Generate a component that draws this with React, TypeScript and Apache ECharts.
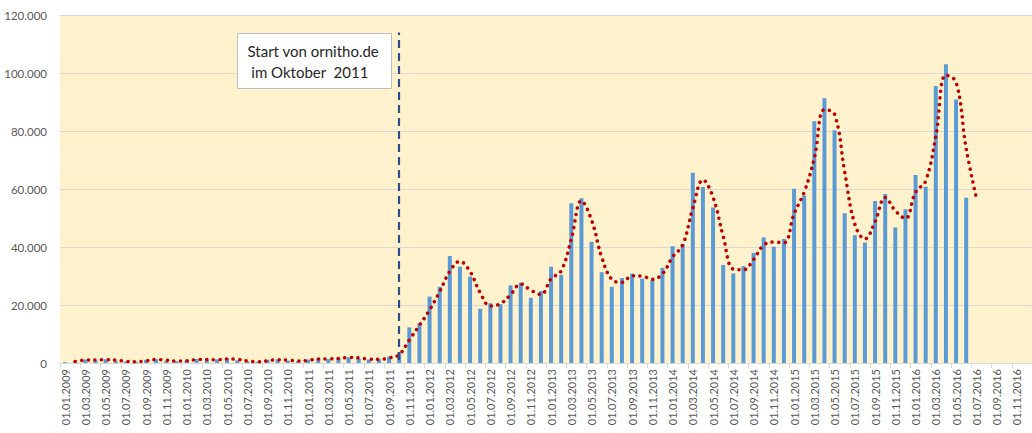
import React, { useEffect, useRef } from "react";
import * as echarts from "echarts";

const months: string[] = [
  "01.01.2009","01.02.2009","01.03.2009","01.04.2009","01.05.2009","01.06.2009","01.07.2009","01.08.2009","01.09.2009","01.10.2009","01.11.2009","01.12.2009",
  "01.01.2010","01.02.2010","01.03.2010","01.04.2010","01.05.2010","01.06.2010","01.07.2010","01.08.2010","01.09.2010","01.10.2010","01.11.2010","01.12.2010",
  "01.01.2011","01.02.2011","01.03.2011","01.04.2011","01.05.2011","01.06.2011","01.07.2011","01.08.2011","01.09.2011","01.10.2011","01.11.2011","01.12.2011",
  "01.01.2012","01.02.2012","01.03.2012","01.04.2012","01.05.2012","01.06.2012","01.07.2012","01.08.2012","01.09.2012","01.10.2012","01.11.2012","01.12.2012",
  "01.01.2013","01.02.2013","01.03.2013","01.04.2013","01.05.2013","01.06.2013","01.07.2013","01.08.2013","01.09.2013","01.10.2013","01.11.2013","01.12.2013",
  "01.01.2014","01.02.2014","01.03.2014","01.04.2014","01.05.2014","01.06.2014","01.07.2014","01.08.2014","01.09.2014","01.10.2014","01.11.2014","01.12.2014",
  "01.01.2015","01.02.2015","01.03.2015","01.04.2015","01.05.2015","01.06.2015","01.07.2015","01.08.2015","01.09.2015","01.10.2015","01.11.2015","01.12.2015",
  "01.01.2016","01.02.2016","01.03.2016","01.04.2016","01.05.2016","01.06.2016","01.07.2016","01.08.2016","01.09.2016","01.10.2016","01.11.2016","01.12.2016",
];

// monthly observations (bars)
const observations: (number | null)[] = [
  300, 800, 1200, 900, 1300, 700, 500, 400, 1100, 1300, 700, 600,
  900, 1400, 1000, 1200, 1600, 900, 500, 400, 1100, 1200, 800, 600,
  1200, 1500, 1300, 1800, 2000, 1500, 1200, 1300, 2200, 3600, 12300, 13700,
  22900, 26300, 36900, 33200, 29800, 18700, 20600, 20300, 26800, 27700, 22500, 24800,
  33200, 30400, 55100, 56800, 41800, 31300, 26300, 29300, 30800, 29100, 28600, 32800,
  40300, 41100, 65600, 60700, 53600, 33800, 30900, 33400, 38000, 43300, 40100, 42800,
  60100, 57800, 83400, 91300, 80300, 51600, 44100, 41500, 55900, 58300, 46700, 53000,
  64800, 60800, 95500, 103000, 90900, 57000, null, null, null, null, null, null,
];

// dotted red trend line
const trend: (number | null)[] = [
  null, 550, 1000, 1050, 1100, 1000, 600, 450, 750, 1200, 1000, 650,
  750, 1150, 1200, 1100, 1400, 1250, 700, 450, 750, 1150, 1000, 700,
  900, 1350, 1400, 1550, 1900, 1750, 1350, 1250, 1750, 2900, 7950, 13000,
  18300, 24600, 31600, 35050, 31500, 24250, 19650, 20450, 23550, 27250, 25100, 23650,
  29000, 31800, 42750, 55950, 49300, 36550, 28800, 27800, 30050, 29950, 28850, 30700,
  36550, 40700, 53350, 63150, 57150, 43700, 32350, 32150, 35700, 40650, 41700, 41450,
  51450, 58950, 70600, 87350, 85800, 65950, 47850, 42800, 48700, 57100, 52500, 49850,
  58900, 62800, 78150, 99250, 96950, 73950, 57000, null, null, null, null, null,
];

const yTicks: number[] = [0, 20000, 40000, 60000, 80000, 100000, 120000];
const startIndex = 33; // Oktober 2011
const startLineRange: number[] = [1000, 114000];
const noteLines: string[] = ["Start von ornitho.de", " im Oktober  2011"];

const FONT = "Lato, 'Open Sans', sans-serif";

function fmt(v: number): string {
  if (v === 0) return "0";
  const k = Math.round(v / 1000);
  return k + ".000";
}

export default function App() {
  const ref = useRef<HTMLDivElement>(null);
  useEffect(() => {
    if (!ref.current) return;
    const chart = echarts.init(ref.current, undefined, { renderer: "svg" });
    chart.setOption({
      animation: false,
      backgroundColor: "#ffffff",
      grid: {
        left: 60,
        right: 0,
        top: 15,
        bottom: 70,
        show: true,
        backgroundColor: "#FFF2CC",
        borderWidth: 0,
      },
      xAxis: {
        type: "category",
        data: months,
        boundaryGap: true,
        axisLine: { lineStyle: { color: "#D9D9D9", width: 1 } },
        axisTick: { show: true, interval: 1, length: 5, lineStyle: { color: "#D9D9D9" } },
        axisLabel: {
          interval: 1,
          rotate: 90,
          color: "#595959",
          fontSize: 11,
          fontFamily: FONT,
          margin: 6,
        },
        splitLine: { show: false },
      },
      yAxis: {
        type: "value",
        min: yTicks[0],
        max: yTicks[yTicks.length - 1],
        interval: 20000,
        axisLine: { show: false },
        axisTick: { show: false },
        axisLabel: {
          color: "#595959",
          fontSize: 11.5,
          fontFamily: FONT,
          margin: 13,
          formatter: (v: number) => fmt(v),
        },
        splitLine: { lineStyle: { color: "#D9D9D9", width: 1 } },
      },
      series: [
        {
          type: "bar",
          data: observations,
          barWidth: 4,
          itemStyle: { color: "#5B9BD5" },
          z: 2,
          markLine: {
            silent: true,
            symbol: ["none", "none"],
            label: { show: false },
            lineStyle: { color: "#2E4D8A", width: 2.2, type: [8, 5] },
            data: [
              [
                { coord: [startIndex, startLineRange[0]] },
                { coord: [startIndex, startLineRange[1]] },
              ],
            ],
          },
        },
        {
          type: "line",
          data: trend,
          smooth: 0.4,
          showSymbol: false,
          symbol: "none",
          connectNulls: false,
          lineStyle: { color: "#C00000", width: 3.5, type: [0.1, 6.5], cap: "round" },
          z: 3,
        },
      ],
      graphic: [
        {
          type: "group",
          left: 237,
          top: 33,
          z: 100,
          children: [
            {
              type: "rect",
              z: 100,
              shape: { x: 0, y: 0, width: 154, height: 55 },
              style: { fill: "#ffffff", stroke: "#BFBFBF", lineWidth: 1 },
            },
            {
              type: "text",
              z: 101,
              x: 10,
              y: 7,
              style: {
                text: noteLines.join("\n"),
                font: `15px ${FONT}`,
                fill: "#262626",
                lineHeight: 21,
              },
            },
          ],
        },
      ],
    });
    return () => chart.dispose();
  }, []);
  return (
    <div
      ref={ref}
      style={{ position: "fixed", left: 0, top: 0, width: 1032, height: 433 }}
    />
  );
}
